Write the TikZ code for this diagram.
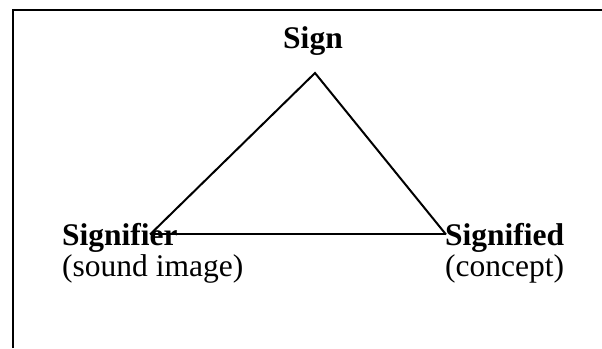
\documentclass[tikz,border=0pt]{standalone}
\usepackage{fontspec}
\setmainfont{Liberation Serif}
\begin{document}
\begin{tikzpicture}[x=1pt,y=1pt,
  lbl/.style={inner sep=0pt, align=left, font=\fontsize{31.5}{31.5}\selectfont},
  edge/.style={line width=2pt},
  frame/.style={line width=2.2pt}]
\useasboundingbox (0,0) rectangle (602,348);
% frame (only left and top visible)
\coordinate (fbl) at (12.7,0);
\coordinate (ftl) at (12.7,338);
\coordinate (ftr) at (602,338);
\draw[frame] (fbl) -- (ftl) -- (ftr);
% labels
\node[lbl, anchor=base] (sign) at (313,299) {\textbf{Sign}};
\node[lbl, anchor=base west] (signifier) at (62,71) {\textbf{Signifier}\\(sound image)};
\node[lbl, anchor=base west] (signified) at (445,71) {\textbf{Signified}\\(concept)};
% triangle vertices
\coordinate (apex) at (315,275);
\coordinate (left) at (150,113.5);
\coordinate (right) at (446,113.5);
\draw[edge] (left) -- (apex) -- (right);
\draw[edge] (left) -- (right);
\end{tikzpicture}
\end{document}
